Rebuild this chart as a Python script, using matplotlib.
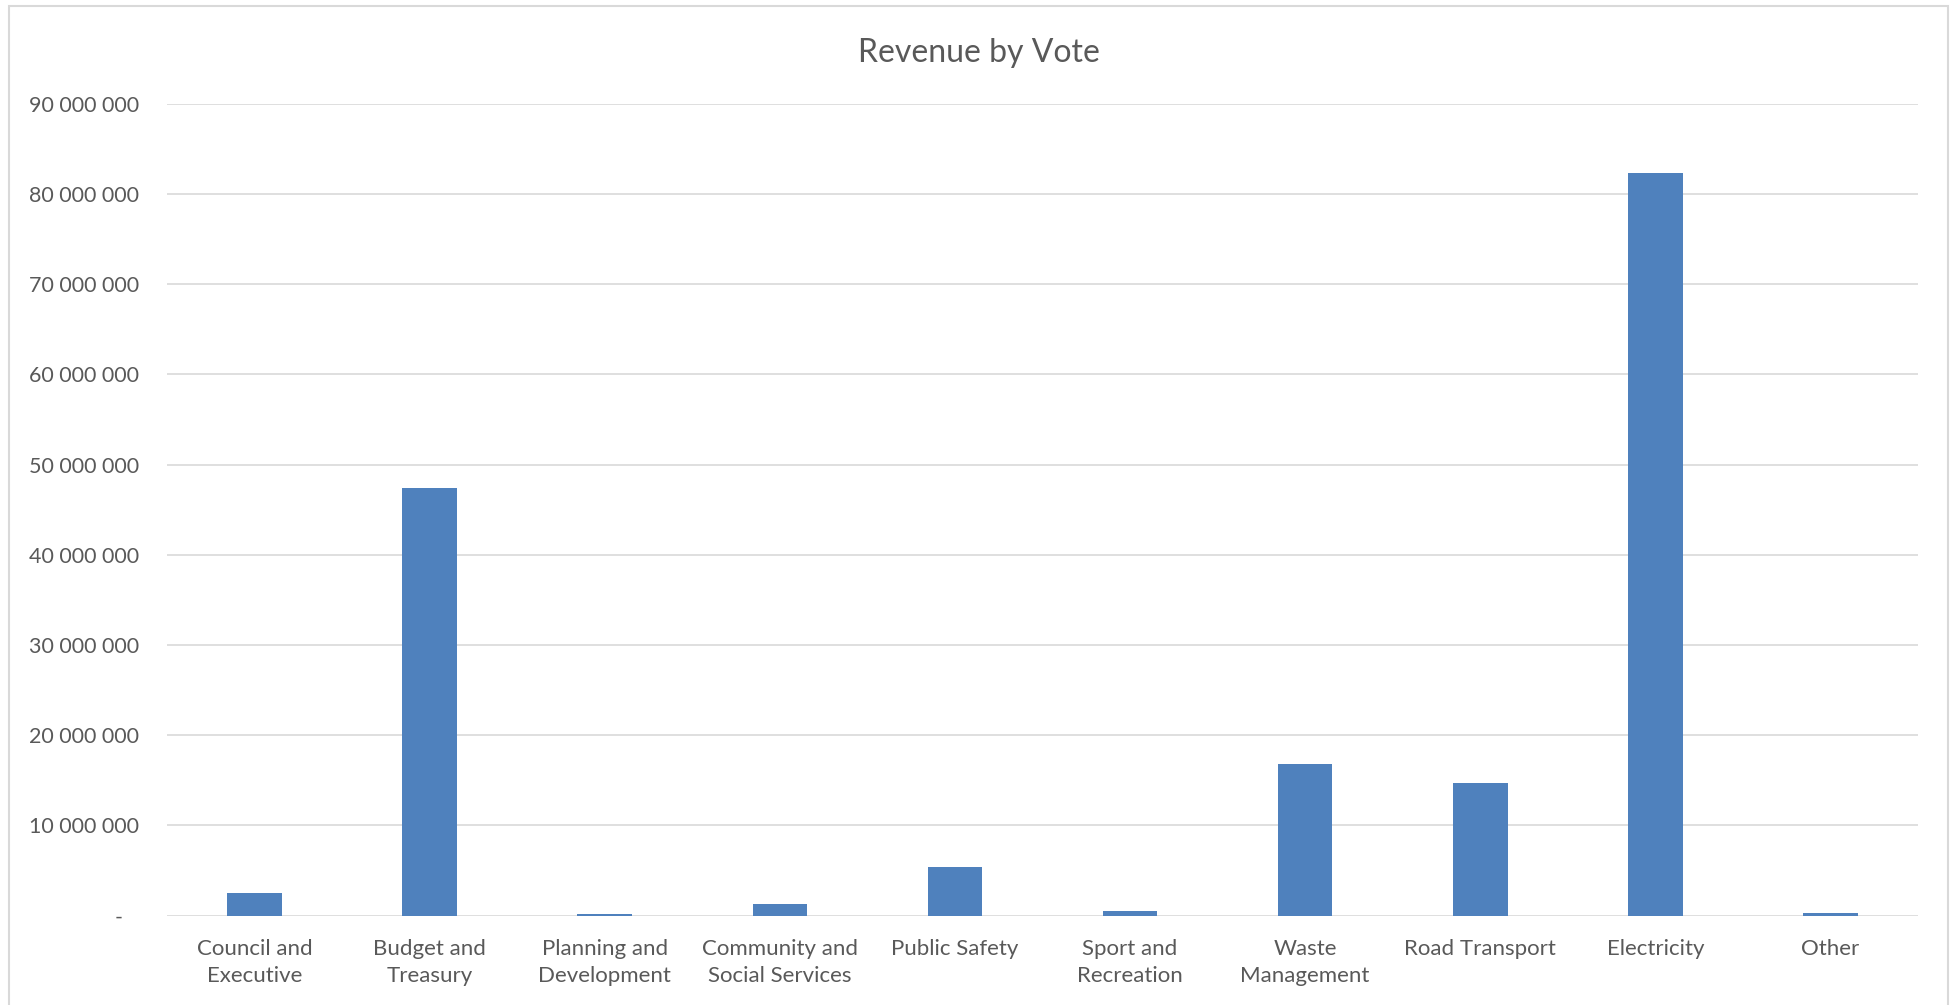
import matplotlib
matplotlib.use("Agg")
import matplotlib.pyplot as plt
from matplotlib.patches import Rectangle
from matplotlib.ticker import FuncFormatter, MultipleLocator
import numpy as np

# Revenue per vote (Rand)
votes = ["Council and\nExecutive", "Budget and\nTreasury", "Planning and\nDevelopment",
         "Community and\nSocial Services", "Public Safety", "Sport and\nRecreation",
         "Waste\nManagement", "Road Transport", "Electricity", "Other"]
revenue = [2490000, 47450000, 220000, 1280000, 5350000, 550000,
           16770000, 14750000, 82400000, 300000]

bar_color = "#4F81BD"
grid_color = "#D9D9D9"
text_color = "#595959"

plt.rcParams["font.family"] = ["Lato", "DejaVu Sans"]

W, H = 1957, 1005
fig = plt.figure(figsize=(W / 100, H / 100), dpi=100)
ax = fig.add_axes([167 / W, 1 - 915.5 / H, (1918 - 167) / W, (915.5 - 104) / H])

x = np.arange(len(votes))
ax.bar(x, revenue, width=0.312, color=bar_color, zorder=3)

ax.set_xlim(-0.5, len(votes) - 0.5)
ax.set_ylim(0, 90000000)
ax.yaxis.set_major_locator(MultipleLocator(10000000))


def money(v, pos):
    if v == 0:
        return "-   "
    return f"{int(v):,}".replace(",", " ")


ax.yaxis.set_major_formatter(FuncFormatter(money))
ax.grid(axis="y", color=grid_color, linewidth=1.2, zorder=0)
for s in ax.spines.values():
    s.set_visible(False)

ax.set_xticks(x)
ax.set_xticklabels(votes, linespacing=1.45)
ax.tick_params(axis="x", length=0, pad=17, labelsize=16, labelcolor=text_color)
ax.tick_params(axis="y", length=0, pad=20, labelsize=15.5, labelcolor=text_color)

fig.text(0.5, 1 - 61.7 / H, "Revenue by Vote", ha="center", va="baseline",
         fontsize=23, color=text_color)

# light frame round the whole chart area
fig.patches.append(Rectangle((9 / W, -0.05), (1948 - 9) / W, 1 - 6 / H + 0.05,
                             transform=fig.transFigure, fill=False,
                             edgecolor=grid_color, linewidth=1.5))

fig.savefig("out.png", dpi=100, facecolor="white")
